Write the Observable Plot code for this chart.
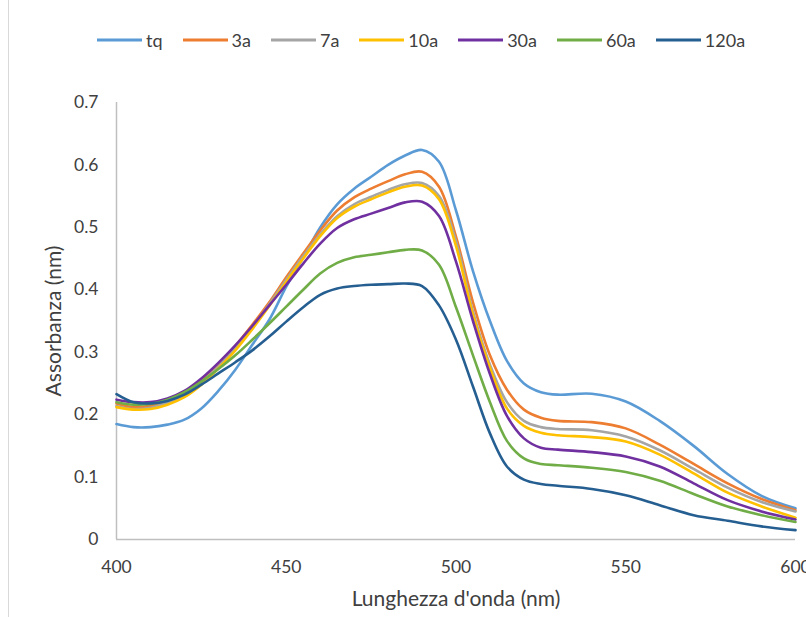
<!DOCTYPE html>
<html>
<head>
<meta charset="utf-8">
<script src="https://cdn.jsdelivr.net/npm/d3@7"></script>
<script src="https://cdn.jsdelivr.net/npm/@observablehq/plot@0.6"></script>
<style>
  body { margin: 0; background: #fff; }
  #wrap { position: relative; width: 806px; height: 617px; overflow: hidden; font-family: Lato, "Open Sans", sans-serif; color: #404040; }
  #frame { position: absolute; left: 8px; top: 0; width: 1px; height: 617px; background: #d9d9d9; }
  #legend { height: 60px; display: flex; align-items: center; padding-left: 97px; box-sizing: border-box; padding-top: 20px; }
  .item { display: flex; align-items: center; margin-right: 20px; font-size: 18px; }
  .item svg { margin-right: 4px; }
  #chart svg { display: block; }
</style>
</head>
<body>
<div id="wrap">
  <div id="frame"></div>
  <div id="legend"></div>
  <div id="chart"></div>
</div>
<script>
// Wavelengths (nm)
const wavelength = [400,405,410,415,420,425,430,435,440,445,450,455,460,465,470,475,480,485,490,495,500,505,510,515,520,525,530,540,550,560,570,580,590,600];

// Absorbance per series
const tq   = [0.185,0.180,0.180,0.184,0.192,0.210,0.238,0.272,0.312,0.352,0.405,0.452,0.500,0.537,0.562,0.581,0.600,0.615,0.624,0.605,0.527,0.430,0.350,0.286,0.250,0.236,0.232,0.2335,0.221,0.190,0.150,0.105,0.070,0.050];
const a3   = [0.218,0.212,0.214,0.222,0.235,0.255,0.281,0.310,0.344,0.380,0.420,0.458,0.495,0.527,0.548,0.562,0.574,0.585,0.589,0.565,0.485,0.380,0.295,0.240,0.208,0.195,0.190,0.188,0.178,0.152,0.121,0.090,0.065,0.047];
const a7   = [0.214,0.209,0.211,0.219,0.231,0.251,0.277,0.306,0.340,0.377,0.416,0.454,0.489,0.518,0.537,0.549,0.560,0.569,0.571,0.550,0.478,0.365,0.280,0.220,0.190,0.180,0.177,0.175,0.165,0.143,0.113,0.083,0.060,0.045];
const a10  = [0.212,0.208,0.209,0.216,0.228,0.248,0.274,0.303,0.337,0.374,0.413,0.450,0.486,0.515,0.533,0.545,0.556,0.565,0.567,0.545,0.470,0.360,0.275,0.210,0.182,0.171,0.167,0.164,0.157,0.136,0.106,0.075,0.053,0.035];
const a30  = [0.224,0.220,0.220,0.226,0.238,0.258,0.283,0.311,0.342,0.375,0.408,0.442,0.474,0.499,0.513,0.522,0.531,0.540,0.541,0.518,0.445,0.350,0.265,0.198,0.162,0.147,0.144,0.140,0.133,0.117,0.090,0.063,0.045,0.032];
const a60  = [0.220,0.216,0.217,0.224,0.236,0.253,0.273,0.295,0.320,0.346,0.373,0.400,0.426,0.443,0.452,0.456,0.460,0.464,0.463,0.440,0.372,0.295,0.220,0.158,0.130,0.121,0.119,0.115,0.108,0.094,0.073,0.053,0.039,0.028];
const a120 = [0.233,0.220,0.218,0.222,0.232,0.248,0.266,0.284,0.303,0.325,0.349,0.372,0.392,0.402,0.406,0.408,0.409,0.410,0.406,0.375,0.320,0.245,0.170,0.117,0.096,0.089,0.086,0.081,0.071,0.055,0.039,0.030,0.021,0.015];

const seriesNames  = ["tq","3a","7a","10a","30a","60a","120a"];
const seriesValues = [tq, a3, a7, a10, a30, a60, a120];
const seriesColors = ["#5B9BD5","#ED7D31","#A5A5A5","#FFC000","#7030A0","#70AD47","#255E91"];

const xTicks = [400,450,500,550,600];
const yTicks = [0,0.1,0.2,0.3,0.4,0.5,0.6,0.7];

const rows = [];
seriesNames.forEach((name, i) => {
  wavelength.forEach((w, j) => rows.push({series: name, wavelength: w, value: seriesValues[i][j]}));
});

// Legend
const legend = document.getElementById("legend");
seriesNames.forEach((name, i) => {
  const item = document.createElement("div");
  item.className = "item";
  item.innerHTML = `<svg width="45" height="6"><line x1="0" x2="45" y1="3" y2="3" stroke="${seriesColors[i]}" stroke-width="3"/></svg><span>${name}</span>`;
  legend.appendChild(item);
});

const chart = Plot.plot({
  width: 806,
  height: 557,
  marginTop: 42,
  marginLeft: 116,
  marginRight: 11,
  marginBottom: 78,
  style: {fontFamily: "Lato, 'Open Sans', sans-serif", fontSize: "17px", color: "#404040", background: "#fff"},
  x: {domain: [400, 600]},
  y: {domain: [0, 0.7]},
  color: {domain: seriesNames, range: seriesColors},
  marks: [
    Plot.axisX({ticks: xTicks, tickSize: 0, tickPadding: 21, fontSize: 17.5, label: null}),
    Plot.axisY({ticks: yTicks, tickSize: 0, tickPadding: 18, fontSize: 17.5, tickFormat: d => d === 0 ? "0" : d.toFixed(1), label: null}),
    Plot.axisX({ticks: [], tickSize: 0, label: "Lunghezza d'onda (nm)", labelAnchor: "center", labelOffset: 66, labelArrow: "none", fontSize: 21}),
    Plot.axisY({ticks: [], tickSize: 0, label: "Assorbanza (nm)", labelAnchor: "center", labelOffset: 70, labelArrow: "none", fontSize: 21}),
    Plot.ruleX([400], {stroke: "#bfbfbf", strokeWidth: 1.5}),
    Plot.ruleY([0], {stroke: "#bfbfbf", strokeWidth: 1.5}),
    Plot.line(rows, {x: "wavelength", y: "value", z: "series", stroke: "series", strokeWidth: 2.6, curve: "catmull-rom"})
  ]
});
document.getElementById("chart").appendChild(chart);
</script>
</body>
</html>
